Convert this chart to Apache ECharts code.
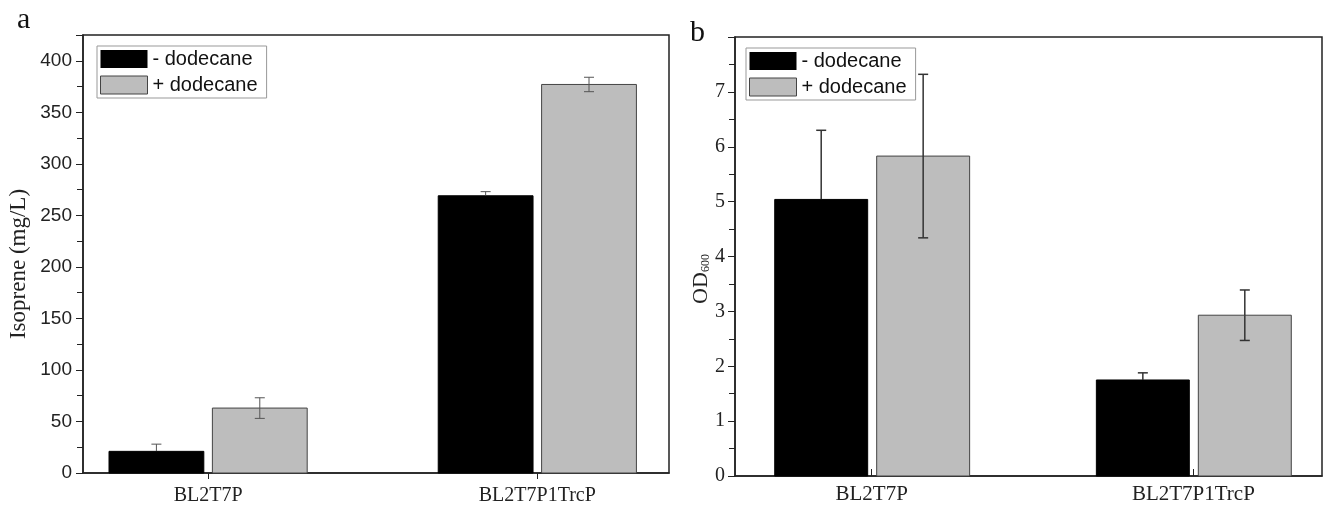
<!DOCTYPE html>
<html>
<head>
<meta charset="utf-8">
<script src="https://cdn.jsdelivr.net/npm/echarts@6/dist/echarts.min.js"></script>
<style>
  html, body { margin: 0; padding: 0; background: #fff; }
  #chart { width: 1325px; height: 509px; }
</style>
</head>
<body>
<div id="chart"></div>
<script>
  // strains on the x axis
  const categories = ['BL2T7P', 'BL2T7P1TrcP'];
  const seriesNames = ['- dodecane', '+ dodecane'];

  // panel a: isoprene (mg/L)
  const isoMinus = [21, 269];
  const isoMinusErr = [7, 4];
  const isoPlus = [63, 377];
  const isoPlusErr = [10, 7];

  // panel b: OD600
  const odMinus = [5.04, 1.75];
  const odMinusErr = [1.26, 0.13];
  const odPlus = [5.83, 2.93];
  const odPlusErr = [1.49, 0.46];

  const serif = '"Liberation Serif", "DejaVu Serif", serif';
  const sans = '"Liberation Sans", Arial, sans-serif';

  function toData(vals, errs) {
    return vals.map((v, i) => [i + 1, v, errs[i]]);
  }

  // bar + error bar drawn through the axis scales
  // lower half of the error bar is drawn in lowColor (hidden inside dark bars)
  function barRender(offset, width, fill, stroke, errColor, lowColor, errWidth, cap) {
    return function (params, api) {
      const x = api.value(0) + offset;
      const y = api.value(1);
      const e = api.value(2);
      const p0 = api.coord([x - width / 2, 0]);
      const p1 = api.coord([x + width / 2, y]);
      const mid = api.coord([x, y]);
      const top = api.coord([x, y + e]);
      const bot = api.coord([x, y - e]);
      const line = (x1, y1, x2, y2, c) => ({
        type: 'line',
        shape: { x1: x1, y1: y1, x2: x2, y2: y2 },
        style: { stroke: c, lineWidth: errWidth }
      });
      return {
        type: 'group',
        children: [
          {
            type: 'rect',
            shape: { x: p0[0], y: p1[1], width: p1[0] - p0[0], height: p0[1] - p1[1] },
            style: { fill: fill, stroke: stroke, lineWidth: 1 }
          },
          line(top[0], top[1], mid[0], mid[1], errColor),
          line(mid[0], mid[1], bot[0], bot[1], lowColor),
          line(top[0] - cap, top[1], top[0] + cap, top[1], errColor),
          line(bot[0] - cap, bot[1], bot[0] + cap, bot[1], lowColor)
        ]
      };
    };
  }

  function legendFor(left, top) {
    return {
      left: left,
      top: top,
      orient: 'vertical',
      itemWidth: 47,
      itemHeight: 18,
      itemGap: 6,
      padding: [3, 9, 3, 3],
      borderColor: '#999',
      borderWidth: 1,
      selectedMode: false,
      textStyle: { fontFamily: sans, fontSize: 20, color: '#111' },
      data: [
        { name: seriesNames[0], icon: 'rect', itemStyle: { color: '#000', borderColor: '#000' } },
        { name: seriesNames[1], icon: 'rect', itemStyle: { color: '#bdbdbd', borderColor: '#444', borderWidth: 1 } }
      ]
    };
  }

  const chart = echarts.init(document.getElementById('chart'));

  const option = {
    backgroundColor: '#fff',
    animation: false,
    grid: [
      { left: 83, top: 35, width: 586, height: 438, show: true, borderColor: '#222', borderWidth: 1.5 },
      { left: 735, top: 37, width: 587, height: 439, show: true, borderColor: '#222', borderWidth: 1.5 }
    ],
    legend: [legendFor(97, 46), legendFor(746, 48)],
    xAxis: [
      {
        type: 'value', gridIndex: 0, min: 0.62, max: 2.4,
        axisLine: { lineStyle: { color: '#222', width: 1.5 } },
        axisTick: { customValues: [1, 2], length: 6, lineStyle: { color: '#222' } },
        axisLabel: {
          customValues: [1, 2], margin: 13,
          fontFamily: serif, fontSize: 20, color: '#222',
          formatter: v => categories[Math.round(v) - 1]
        },
        splitLine: { show: false }
      },
      {
        type: 'value', gridIndex: 1, min: 0.575, max: 2.4,
        axisLine: { lineStyle: { color: '#222', width: 1.5 } },
        axisTick: { customValues: [1, 2], inside: true, length: 7, lineStyle: { color: '#222' } },
        axisLabel: {
          customValues: [1, 2], margin: 8,
          fontFamily: serif, fontSize: 21, color: '#222',
          formatter: v => categories[Math.round(v) - 1]
        },
        splitLine: { show: false }
      }
    ],
    yAxis: [
      {
        type: 'value', gridIndex: 0, min: 0, max: 425, interval: 50,
        axisLine: { show: true, lineStyle: { color: '#222', width: 1.5 } },
        axisTick: { show: true, length: 7, lineStyle: { color: '#222' } },
        minorTick: { show: true, splitNumber: 2, length: 6, lineStyle: { color: '#222' } },
        axisLabel: {
          margin: 11, fontFamily: sans, fontSize: 19, color: '#222',
          formatter: v => (v % 50 === 0 ? String(v) : '')
        },
        splitLine: { show: false }
      },
      {
        type: 'value', gridIndex: 1, min: 0, max: 8, interval: 1,
        axisLine: { show: true, lineStyle: { color: '#222', width: 1.5 } },
        axisTick: { show: true, length: 7, lineStyle: { color: '#222' } },
        minorTick: { show: true, splitNumber: 2, length: 6, lineStyle: { color: '#222' } },
        axisLabel: {
          margin: 10, fontFamily: serif, fontSize: 20, color: '#222',
          formatter: v => (v === 8 ? '' : String(v))
        },
        splitLine: { show: false }
      }
    ],
    graphic: [
      { type: 'text', left: 17, top: 5, style: { text: 'a', font: '30px ' + serif, fill: '#111' } },
      { type: 'text', left: 690, top: 18, style: { text: 'b', font: '30px ' + serif, fill: '#111' } },
      {
        type: 'text', x: 19, y: 264, rotation: Math.PI / 2,
        style: {
          text: 'Isoprene (mg/L)', font: '23px ' + serif, fill: '#222',
          align: 'center', verticalAlign: 'middle'
        }
      },
      {
        type: 'text', x: 700, y: 279, rotation: Math.PI / 2,
        style: {
          text: '{a|OD}{b|600}', fill: '#222', align: 'center', verticalAlign: 'middle',
          rich: {
            a: { font: '22px ' + serif, fill: '#222', verticalAlign: 'bottom', lineHeight: 24 },
            b: { font: '12px ' + serif, fill: '#222', verticalAlign: 'bottom', lineHeight: 14 }
          }
        }
      }
    ],
    series: [
      {
        name: seriesNames[0], type: 'custom', xAxisIndex: 0, yAxisIndex: 0,
        itemStyle: { color: '#000' },
        renderItem: barRender(-0.157, 0.288, '#000', '#000', '#555', '#000', 1, 5),
        data: toData(isoMinus, isoMinusErr)
      },
      {
        name: seriesNames[1], type: 'custom', xAxisIndex: 0, yAxisIndex: 0,
        itemStyle: { color: '#bdbdbd' },
        renderItem: barRender(0.157, 0.288, '#bdbdbd', '#444', '#555', '#555', 1, 5),
        data: toData(isoPlus, isoPlusErr)
      },
      {
        name: seriesNames[0], type: 'custom', xAxisIndex: 1, yAxisIndex: 1,
        itemStyle: { color: '#000' },
        renderItem: barRender(-0.157, 0.289, '#000', '#000', '#333', '#000', 1.5, 5),
        data: toData(odMinus, odMinusErr)
      },
      {
        name: seriesNames[1], type: 'custom', xAxisIndex: 1, yAxisIndex: 1,
        itemStyle: { color: '#bdbdbd' },
        renderItem: barRender(0.16, 0.289, '#bdbdbd', '#444', '#333', '#333', 1.5, 5),
        data: toData(odPlus, odPlusErr)
      }
    ]
  };

  chart.setOption(option);
</script>
</body>
</html>
